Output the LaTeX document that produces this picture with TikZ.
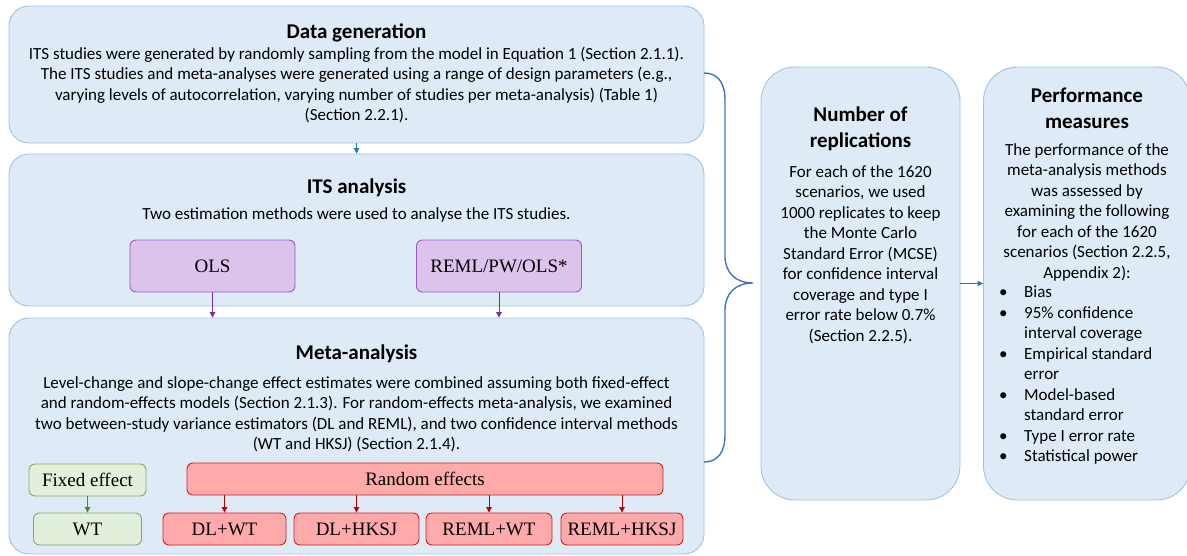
\documentclass[tikz,border=0pt]{standalone}
\usepackage{fontspec}
\setmainfont{Carlito}
\newfontfamily\boxfont{Liberation Serif}
\usetikzlibrary{arrows.meta}

\definecolor{boxfill}{HTML}{DEEBF7}
\definecolor{boxline}{HTML}{9DC3E6}
\definecolor{bracecol}{HTML}{4472C4}
\definecolor{flowblue}{HTML}{2E75B6}
\definecolor{purpfill}{HTML}{DCC3EC}
\definecolor{purpline}{HTML}{9B59C8}
\definecolor{purparrow}{HTML}{7030A0}
\definecolor{greenfill}{HTML}{E2EFDA}
\definecolor{greenline}{HTML}{82A86A}
\definecolor{greenarrow}{HTML}{548235}
\definecolor{redfill}{HTML}{FFAAAA}
\definecolor{redline}{HTML}{D02020}
\definecolor{redarrow}{HTML}{C00000}

\tikzset{
	stage/.style={draw=boxline, fill=boxfill, line width=0.9pt, rounded corners=20pt, inner sep=0pt},
	side/.style={stage, rounded corners=34pt},
	head/.style={font=\bfseries\fontsize{21}{26}\selectfont, align=center, inner sep=0pt},
	body/.style={font=\fontsize{17}{20.5}\selectfont, align=center, inner sep=0pt},
	small/.style={rounded corners=6pt, line width=0.9pt, minimum height=32pt, inner sep=0pt, font=\boxfont\fontsize{19}{22}\selectfont},
	est/.style={small, draw=purpline, fill=purpfill, minimum width=165pt, minimum height=52pt},
	fixbox/.style={small, draw=greenline, fill=greenfill},
	ranbox/.style={small, draw=redline, fill=redfill},
}

\begin{document}
\begin{tikzpicture}[x=1pt, y=-1pt, >={Triangle[length=5.5pt,width=5.5pt]}]
			\useasboundingbox (0,0) rectangle (1187,555);
			% stages on the left
			\node	(dg) at (356.5,74.5) [stage, minimum width=695pt, minimum height=137pt] {};
			\node	(its) at (356.5,230) [stage, minimum width=695pt, minimum height=152pt] {};
			\node	(ma) at (356.5,436) [stage, minimum width=695pt, minimum height=236pt] {};
			% boxes on the right
			\node	(nr) at (860.5,283.5) [side, minimum width=199pt, minimum height=433pt] {};
			\node	(pm) at (1087,283.5) [side, minimum width=207pt, minimum height=433pt] {};

			\node	(dgh) at (356.5,38) [head, anchor=base] {Data generation};
			\node	(dgt) at (356.5,46.5) [body, anchor=north] {ITS studies were generated by randomly sampling from the model in Equation 1 (Section 2.1.1).\\
				The ITS studies and meta-analyses were generated using a range of design parameters (e.g.,\\
				varying levels of autocorrelation, varying number of studies per meta-analysis) (Table 1)\\
				(Section 2.2.1).};

			\node	(itsh) at (356.5,193) [head, anchor=base] {ITS analysis};
			\node	(itst) at (356.5,219) [body, anchor=base] {Two estimation methods were used to analyse the ITS studies.};
			\node	(ols) at (212.5,266) [est] {OLS};
			\node	(reml) at (499,266) [est] {REML/PW/OLS*};

			\node	(mah) at (356.5,359) [head, anchor=base] {Meta-analysis};
			\node	(mat) at (356.5,376) [body, anchor=north] {Level-change and slope-change effect estimates were combined assuming both fixed-effect\\
				and random-effects models (Section 2.1.3). For random-effects meta-analysis, we examined\\
				two between-study variance estimators (DL and REML), and two confidence interval methods\\
				(WT and HKSJ) (Section 2.1.4).};
			\node	(fe) at (87.5,480) [fixbox, minimum width=117pt] {Fixed effect};
			\node	(wt) at (87.5,529) [fixbox, minimum width=108pt] {WT};
			\node	(re) at (425,479) [ranbox, minimum width=476pt] {Random effects};
			\node	(dlwt) at (224.5,529) [ranbox, minimum width=123pt] {DL+WT};
			\node	(dlhk) at (356.5,529) [ranbox, minimum width=125pt] {DL+HKSJ};
			\node	(rewt) at (489,529) [ranbox, minimum width=126pt] {REML+WT};
			\node	(rehk) at (622,529) [ranbox, minimum width=122pt] {REML+HKSJ};

			\node	(nrh) at (860.5,107) [head, anchor=north] {Number of\\replications};
			\node	(nrt) at (860.5,165) [body, anchor=north] {For each of the 1620\\
				scenarios, we used\\
				1000 replicates to keep\\
				the Monte Carlo\\
				Standard Error (MCSE)\\
				for confidence interval\\
				coverage and type I\\
				error rate below 0.7\%\\
				(Section 2.2.5).};

			\node	(pmh) at (1087,88) [head, anchor=north] {Performance\\measures};
			\node	(pmt) at (1087,143) [body, anchor=north] {The performance of the\\
				meta-analysis methods\\
				was assessed by\\
				examining the following\\
				for each of the 1620\\
				scenarios (Section 2.2.5,\\
				Appendix 2):};
			\node	(pml) at (999,283) [body, anchor=north west, align=left] {\begin{tabular}{@{}p{25pt}@{}l@{}}
				\textbullet & Bias\\
				\textbullet & 95\% confidence\\
				& interval coverage\\
				\textbullet & Empirical standard\\
				& error\\
				\textbullet & Model-based\\
				& standard error\\
				\textbullet & Type I error rate\\
				\textbullet & Statistical power
				\end{tabular}};

			% brace joining the three stages
			\coordinate (bt) at (704,73);
			\coordinate (bb) at (704,462);
			\coordinate (tip) at (753,283);
			\draw[bracecol, line width=1.4pt] (bt) .. controls (718,73) and (725,83) .. (725,100) -- (725,256)
				.. controls (725,272) and (735,283) .. (tip)
				.. controls (735,283) and (725,294) .. (725,310) -- (725,435)
				.. controls (725,452) and (718,462) .. (bb);

			\draw[flowblue, line width=1pt]
			(dg) edge[->] (its)
			(nr) edge[->] (pm)
			;
			\draw[purparrow, line width=1pt]
			(ols) edge[->] (ols |- ma.north)
			(reml) edge[->] (reml |- ma.north)
			;
			\draw[greenarrow, line width=1pt]
			(fe) edge[->] (wt)
			;
			\draw[redarrow, line width=1pt]
			(dlwt |- re.south) edge[->] (dlwt)
			(dlhk |- re.south) edge[->] (dlhk)
			(rewt |- re.south) edge[->] (rewt)
			(rehk |- re.south) edge[->] (rehk)
			;
		\end{tikzpicture}
\end{document}
